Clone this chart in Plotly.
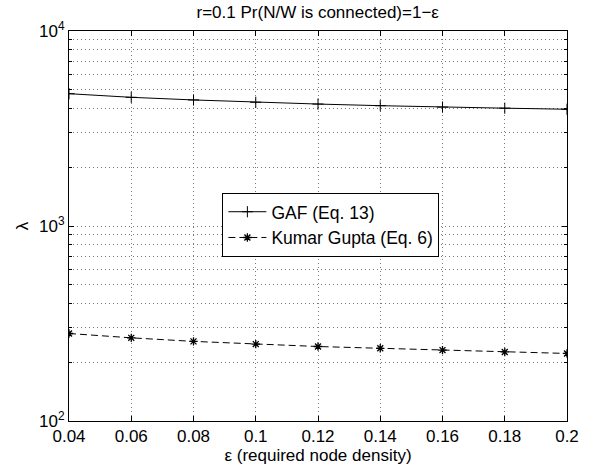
import plotly.graph_objects as go

eps = [0.04, 0.06, 0.08, 0.10, 0.12, 0.14, 0.16, 0.18, 0.20]
gaf = [4770, 4570, 4430, 4310, 4220, 4140, 4070, 4020, 3970]
kumar = [281, 267, 256, 248, 241, 236, 231, 226, 222]

x_ticks = [0.04, 0.06, 0.08, 0.1, 0.12, 0.14, 0.16, 0.18, 0.2]
x_ticktext = ["0.04", "0.06", "0.08", "0.1", "0.12", "0.14", "0.16", "0.18", "0.2"]
y_ticks = [100, 1000, 10000]
y_ticktext = ["10<sup>2</sup>", "10<sup>3</sup>", "10<sup>4</sup>"]
y_minor = [200, 300, 400, 500, 600, 700, 800, 900,
           2000, 3000, 4000, 5000, 6000, 7000, 8000, 9000]

FONT = "Liberation Sans, Arial, sans-serif"
GRID = "#777777"
DOT = "1px,3px"

fig = go.Figure()
fig.add_trace(go.Scatter(
    x=eps, y=gaf, mode="lines+markers", name="GAF (Eq. 13)",
    line=dict(color="black", width=1),
    marker=dict(symbol="cross-thin-open", size=8, color="black", line=dict(width=1, color="black")),
))
fig.add_trace(go.Scatter(
    x=eps, y=kumar, mode="lines+markers", name="Kumar Gupta (Eq. 6)",
    line=dict(color="black", width=1, dash="7px,4px"),
    marker=dict(symbol="asterisk-open", size=7, color="black", line=dict(width=1.3, color="black")),
))

fig.update_layout(
    width=595, height=472,
    margin=dict(l=69, r=28, t=31, b=49),
    paper_bgcolor="white", plot_bgcolor="white",
    font=dict(family=FONT, size=17, color="black"),
    title=dict(text="r=0.1 Pr(N/W is connected)=1\u2212\u03b5", x=0.534, xanchor="center",
               y=0.975, yanchor="middle", font=dict(size=17)),
    showlegend=True,
    legend=dict(x=0.308, y=0.585, xanchor="left", yanchor="top",
                bgcolor="white", bordercolor="black", borderwidth=1,
                font=dict(size=17.5), tracegroupgap=0, itemwidth=38),
    xaxis=dict(
        range=[0.04, 0.2], tickvals=x_ticks, ticktext=x_ticktext,
        showline=True, linecolor="black", linewidth=1, mirror="allticks",
        ticks="inside", ticklen=5, tickcolor="black",
        showgrid=True, gridcolor=GRID, griddash=DOT, gridwidth=1,
        zeroline=False,
        title=dict(text="\u03b5 (required node density)", font=dict(size=17), standoff=2),
        tickfont=dict(size=17),
    ),
    yaxis=dict(
        type="log", range=[2, 4], tickvals=y_ticks, ticktext=y_ticktext,
        showline=True, linecolor="black", linewidth=1, mirror="allticks",
        ticks="inside", ticklen=5, tickcolor="black",
        showgrid=True, gridcolor=GRID, griddash=DOT, gridwidth=1,
        zeroline=False,
        minor=dict(tickvals=y_minor, ticks="inside", ticklen=3, tickcolor="black",
                   showgrid=True, gridcolor=GRID, griddash=DOT, gridwidth=1),
        title=dict(text="\u03bb", font=dict(size=17), standoff=6),
        tickfont=dict(size=17),
    ),
)

fig.write_html("out.html")
